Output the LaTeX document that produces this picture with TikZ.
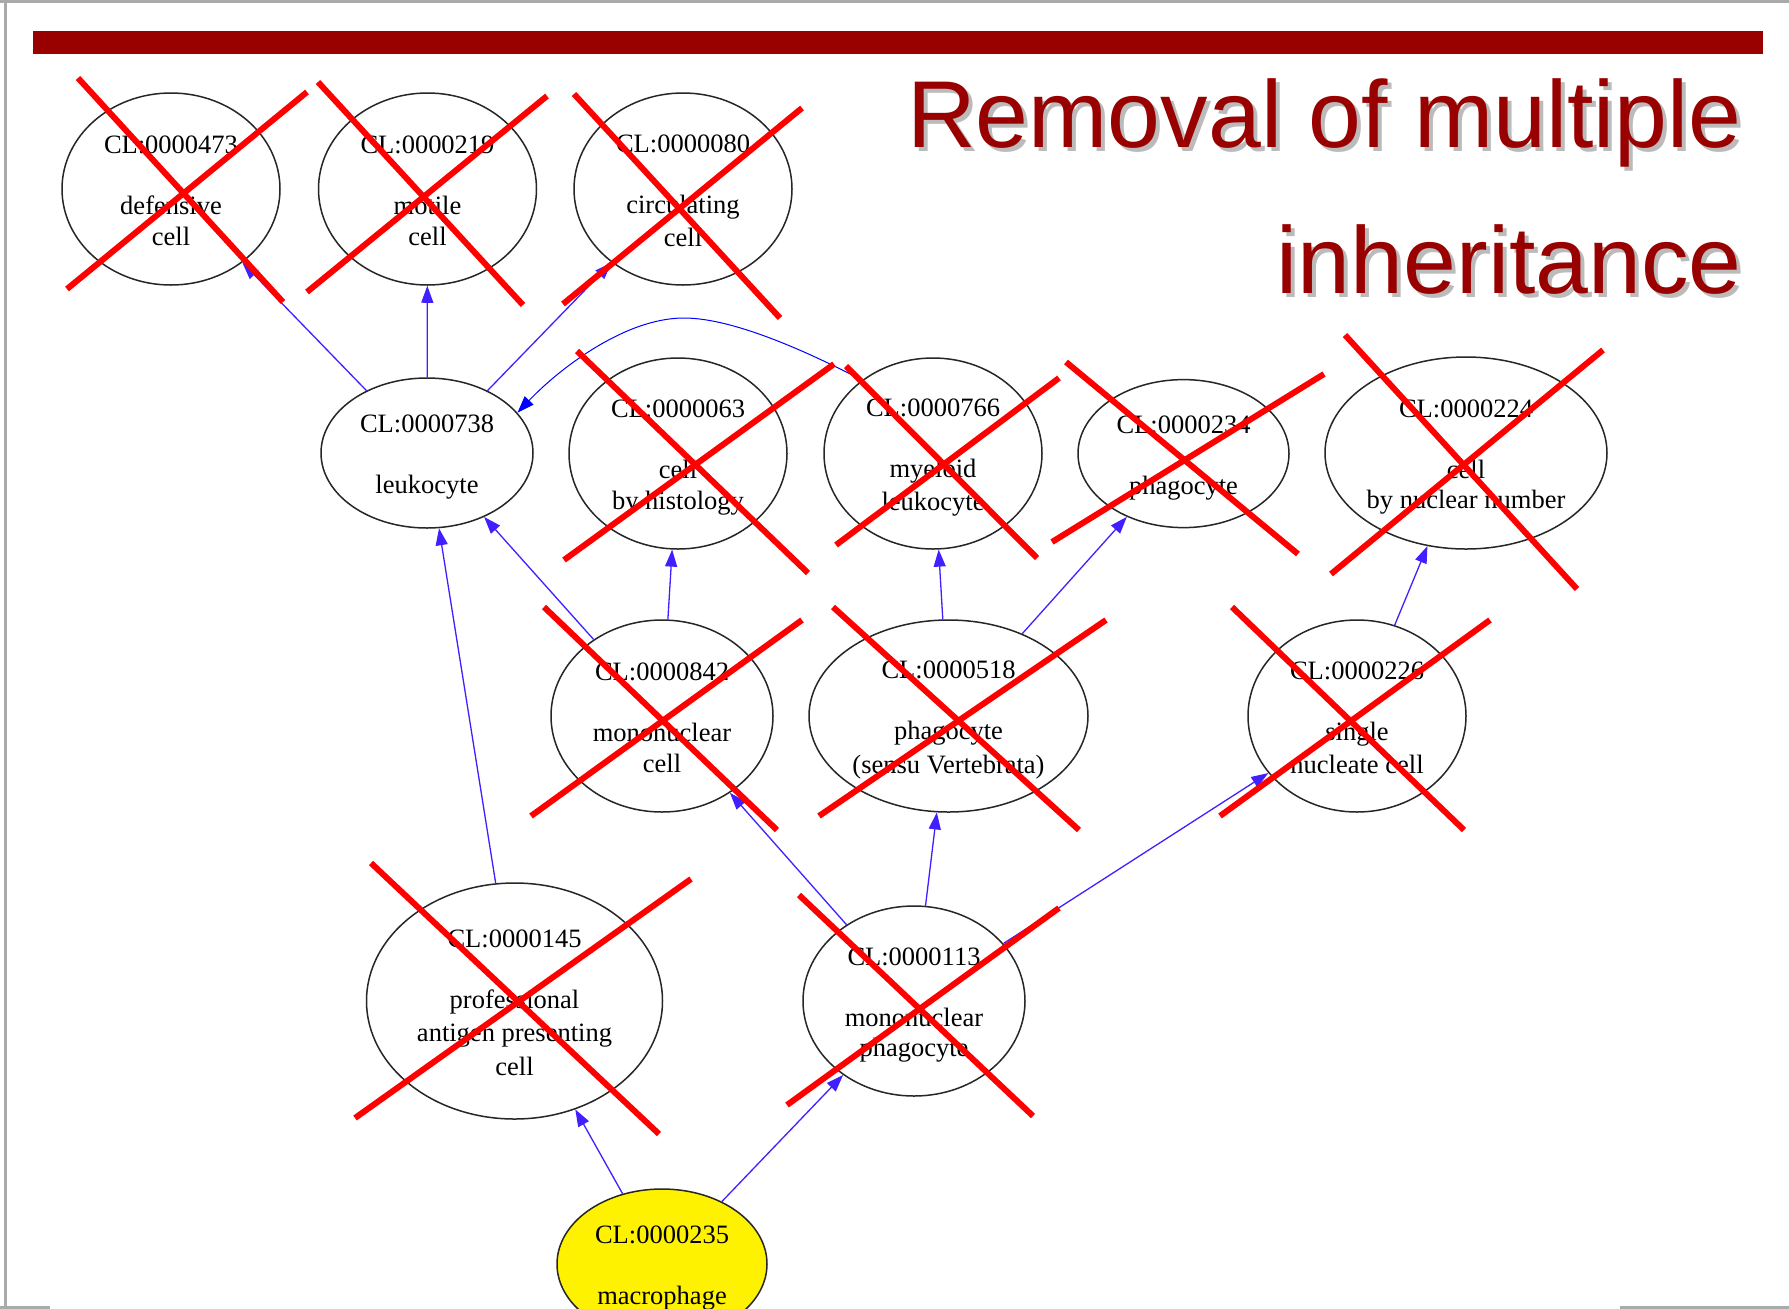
\documentclass[tikz,border=0pt]{standalone}
\usepackage{fontspec}
\usetikzlibrary{shapes.geometric,arrows.meta}
\newfontfamily\gvfont{Liberation Serif}
\newfontfamily\titlefont{Liberation Sans}
\definecolor{barred}{HTML}{990000}
\definecolor{edgeblue}{RGB}{64,32,255}
\definecolor{framegray}{HTML}{AAAAAA}
\definecolor{shadowgray}{HTML}{BBBBBB}
\newcommand\gs{\rule[-2.4pt]{0pt}{15.25pt}}
\begin{document}
\begin{tikzpicture}[x=0.5pt,y=-0.5pt,
  cell/.style={ellipse, draw=black!85, line width=0.75pt, inner sep=0pt, align=center,
    font=\gvfont\fontsize{13.25pt}{15.25pt}\selectfont},
  isa/.style={draw=edgeblue, line width=0.65pt, -{Triangle[length=8.5pt,width=6pt]}},
  curvedge/.style={draw=blue, line width=0.5pt, -{Triangle[length=8.5pt,width=6pt]}},
  xline/.style={draw=red, line width=3pt},
  framel/.style={draw=framegray, line width=1.5pt},
  ttl/.style={anchor=base east, inner sep=0pt, font=\titlefont\fontsize{47.5pt}{57pt}\selectfont}]
\useasboundingbox (0,0) rectangle (1789,1308);
\clip (0,0) rectangle (1789,1308);
\fill[white] (0,0) rectangle (1789,1308);
% frame
\draw[framel] (0,1.5) -- (1789,1.5);
\draw[framel] (5.5,0) -- (5.5,1308);
\draw[framel] (0,1307) -- (50,1307);
\draw[framel] (1620,1307) -- (1789,1307);
% bar
\fill[barred] (33,31) rectangle (1763,54);
% title
\node[ttl, text=shadowgray] (t1s) at (1746,151) {Removal of multiple};
\node[ttl, text=shadowgray] (t2s) at (1746,297) {inheritance};
\node[ttl, text=barred] (t1) at (1742,147) {Removal of multiple};
\node[ttl, text=barred] (t2) at (1742,293) {inheritance};
% nodes
\node[cell, minimum width=109pt, minimum height=96pt] (A) at (171,189) {CL:0000473\gs\\\gs\\defensive\gs\\cell\gs};
\node[cell, minimum width=109pt, minimum height=96pt] (B) at (427.5,189) {CL:0000219\gs\\\gs\\motile\gs\\cell\gs};
\node[cell, minimum width=109pt, minimum height=96pt] (C) at (683,189) {CL:0000080\gs\\\gs\\circulating\gs\\cell\gs};
\node[cell, minimum width=106pt, minimum height=75pt] (D) at (427,453) {CL:0000738\gs\\\gs\\leukocyte\gs};
\node[cell, minimum width=109pt, minimum height=95.5pt] (E) at (678,453.5) {CL:0000063\gs\\\gs\\cell\gs\\by histology\gs};
\node[cell, minimum width=109pt, minimum height=95.5pt] (F) at (933,453.5) {CL:0000766\gs\\\gs\\myeloid\gs\\leukocyte\gs};
\node[cell, minimum width=105.5pt, minimum height=74pt] (G) at (1183.5,453.6) {CL:0000234\gs\\\gs\\phagocyte\gs};
\node[cell, minimum width=141pt, minimum height=96pt] (H) at (1466,453) {CL:0000224\gs\\\gs\\cell\gs\\by nuclear number\gs};
\node[cell, minimum width=111pt, minimum height=96pt] (I) at (662,716) {CL:0000842\gs\\\gs\\mononuclear\gs\\cell\gs};
\node[cell, minimum width=139.5pt, minimum height=96pt] (J) at (948.5,716) {CL:0000518\gs\\\gs\\phagocyte\gs\\(sensu Vertebrata)\gs};
\node[cell, minimum width=109pt, minimum height=96pt] (K) at (1357,716) {CL:0000226\gs\\\gs\\single\gs\\nucleate cell\gs};
\node[cell, minimum width=148pt, minimum height=118pt] (L) at (514.5,1001) {CL:0000145\gs\\\gs\\professional\gs\\antigen presenting\gs\\cell\gs};
\node[cell, minimum width=111pt, minimum height=95pt] (M) at (914,1001) {CL:0000113\gs\\\gs\\mononuclear\gs\\phagocyte\gs};
\node[cell, fill=yellow, minimum width=105pt, minimum height=75pt] (N) at (662,1264) {CL:0000235\gs\\\gs\\macrophage\gs};
% edges
\draw[isa] (D) -- (A);
\draw[isa] (D) -- (B);
\draw[isa] (D) -- (C);
\draw[isa] (I) -- (D);
\draw[isa] (I) -- (E);
\draw[isa] (J) -- (F);
\draw[isa] (J) -- (G);
\draw[isa] (K) -- (H);
\draw[isa] (L) -- (D);
\draw[isa] (M) -- (I);
\draw[isa] (M) -- (J);
\draw[isa] (M) -- (K);
\draw[isa] (N) -- (L);
\draw[isa] (N) -- (M);
\coordinate (pk) at (684,318);
\draw[curvedge] (F.134) .. controls (810,353) and (734,318) .. (pk) .. controls (624,318) and (558,370) .. (D.24);
% crosses
\draw[xline] (78,78) -- (283,302);   \draw[xline] (67,289) -- (307,92);
\draw[xline] (318,82) -- (523,305);  \draw[xline] (307,292) -- (547,96);
\draw[xline] (574,94) -- (780,318);  \draw[xline] (563,304) -- (802,108);
\draw[xline] (577,351) -- (808,573); \draw[xline] (564,560) -- (834,364);
\draw[xline] (846,366) -- (1037,558); \draw[xline] (836,545) -- (1059,378);
\draw[xline] (1066,362) -- (1298,554); \draw[xline] (1052,542) -- (1324,374);
\draw[xline] (1345,335) -- (1577,589); \draw[xline] (1331,574) -- (1603,350);
\draw[xline] (544,607) -- (777,830); \draw[xline] (531,816) -- (802,620);
\draw[xline] (833,607) -- (1079,830); \draw[xline] (819,816) -- (1106,620);
\draw[xline] (1232,607) -- (1464,830); \draw[xline] (1220,816) -- (1490,620);
\draw[xline] (371,863) -- (659,1134); \draw[xline] (355,1118) -- (691,879);
\draw[xline] (799,895) -- (1033,1116); \draw[xline] (787,1105) -- (1059,908);
\end{tikzpicture}
\end{document}
